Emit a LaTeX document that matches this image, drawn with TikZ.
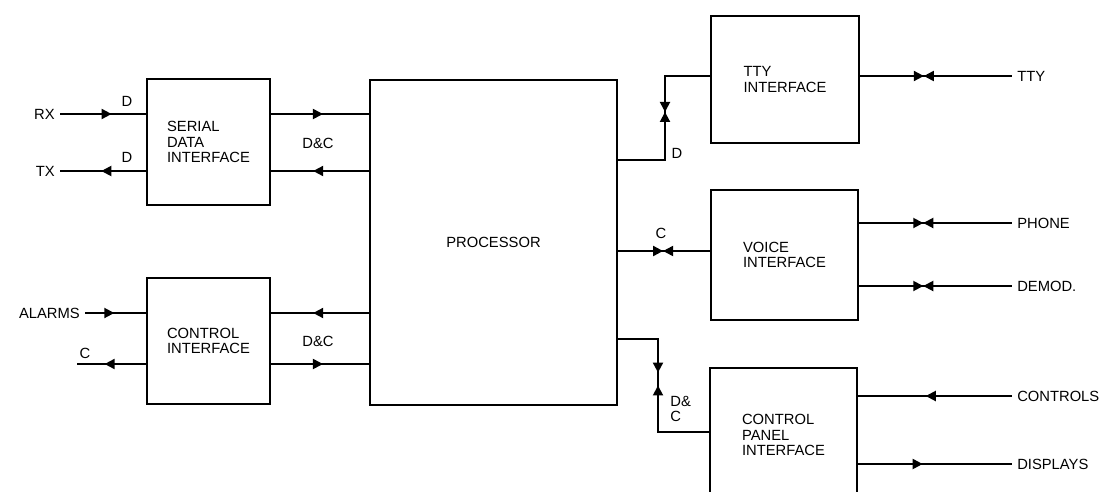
\documentclass[tikz,border=0pt]{standalone}
\usepackage{fontspec}
\setmainfont{Liberation Sans}
\usetikzlibrary{arrows.meta,decorations.markings}
\tikzset{
  blk/.style={draw, rectangle, line width=1.1pt, align=left, font=\fontsize{8.4}{8.8}\selectfont, inner sep=0pt},
  lbl/.style={font=\fontsize{8.4}{8.8}\selectfont, inner sep=0pt, align=left},
  sidelbl/.style={lbl, inner sep=2.8pt},
  sig/.style={line width=1.1pt},
  fwd/.style={postaction={decorate, decoration={markings, mark=at position #1 with {\arrow{>}}}}},
  bwd/.style={postaction={decorate, decoration={markings, mark=at position #1 with {\arrowreversed{>}}}}},
  bowtie/.style={postaction={decorate, decoration={markings, mark=at position #1 with {\arrow{>}\arrowreversed{>}}}}},
}
\begin{document}
\begin{tikzpicture}[x=0.2mm, y=-0.2mm, >={Triangle[length=2mm,width=2mm]}]
\useasboundingbox (0,0) rectangle (1110,491);
\clip (0,0) rectangle (1110,491);
% blocks
\node[blk, minimum width=2.46cm, minimum height=2.52cm] (ser) at (208.5,142) {SERIAL\\DATA\\INTERFACE};
\node[blk, minimum width=2.46cm, minimum height=2.52cm] (ctl) at (208.5,341) {CONTROL\\INTERFACE};
\node[blk, minimum width=4.94cm, minimum height=6.5cm] (proc) at (493.5,242.5) {PROCESSOR};
\node[blk, minimum width=2.96cm, minimum height=2.54cm] (tty) at (785,79.5) {TTY\\INTERFACE};
\node[blk, minimum width=2.94cm, minimum height=2.6cm] (voice) at (784.5,255) {VOICE\\INTERFACE};
\node[blk, minimum width=2.94cm, minimum height=2.68cm] (cpi) at (783.5,435) {CONTROL\\PANEL\\INTERFACE};
% outside signals
\node[sidelbl, anchor=east] (rx) at (60,114) {RX};
\node[sidelbl, anchor=east] (tx) at (60,171) {TX};
\node[sidelbl, anchor=east] (alarms) at (85,313) {ALARMS};
\coordinate (cout) at (77,364);
\node[sidelbl, anchor=west] (ttyo) at (1012,76) {TTY};
\node[sidelbl, anchor=west] (phone) at (1012,223) {PHONE};
\node[sidelbl, anchor=west] (demod) at (1012,286) {DEMOD.};
\node[sidelbl, anchor=west] (ctrls) at (1012,396) {CONTROLS};
\node[sidelbl, anchor=west] (disp) at (1012,464) {DISPLAYS};
% bends
\coordinate (j1) at (665,160);
\coordinate (j2) at (665,76);
\coordinate (vc) at (663,251);
\coordinate (k1) at (658,339);
\coordinate (k2) at (658,432);
% left side
\draw[sig, fwd=0.6] (rx.east) -- (rx.east -| ser.west);
\draw[sig, fwd=0.52] (tx.east -| ser.west) -- (tx.east);
\draw[sig, fwd=0.53] (ser.east |- rx.east) -- (proc.west |- rx.east);
\draw[sig, fwd=0.57] (proc.west |- tx.east) -- (ser.east |- tx.east);
\draw[sig, fwd=0.48] (alarms.east) -- (alarms.east -| ctl.west);
\draw[sig, fwd=0.6] (cout -| ctl.west) -- (cout);
\draw[sig, fwd=0.57] (proc.west |- alarms.east) -- (ctl.east |- alarms.east);
\draw[sig, fwd=0.53] (ctl.east |- cout) -- (proc.west |- cout);
\node[lbl] (d1) at (127,101) {D};
\node[lbl] (d2) at (127,157) {D};
\node[lbl] (dc1) at (318,143) {D\&C};
\node[lbl] (dc2) at (318,341) {D\&C};
\node[lbl] (c1) at (85,353) {C};
% right side
\draw[sig, bowtie=0.54] (proc.east |- j1) -- (j1) -- (j2) -- (tty.west |- j2);
\draw[sig, bowtie=0.49] (proc.east |- vc) -- (voice.west |- vc);
\draw[sig, fwd=0.40, bwd=0.47] (proc.east |- k1) -- (k1) -- (k2) -- (cpi.west |- k2);
\node[lbl] (d3) at (677,153) {D};
\node[lbl] (c2) at (661,233) {C};
\node[lbl, anchor=west] (dc3) at (670,409) {D\&\\C};
\draw[sig, bowtie=0.42] (tty.east |- ttyo.west) -- (ttyo.west);
\draw[sig, bowtie=0.42] (voice.east |- phone.west) -- (phone.west);
\draw[sig, bowtie=0.42] (voice.east |- demod.west) -- (demod.west);
\draw[sig, fwd=0.56] (ctrls.west) -- (ctrls.west -| cpi.east);
\draw[sig, fwd=0.42] (cpi.east |- disp.west) -- (disp.west);
\end{tikzpicture}
\end{document}
